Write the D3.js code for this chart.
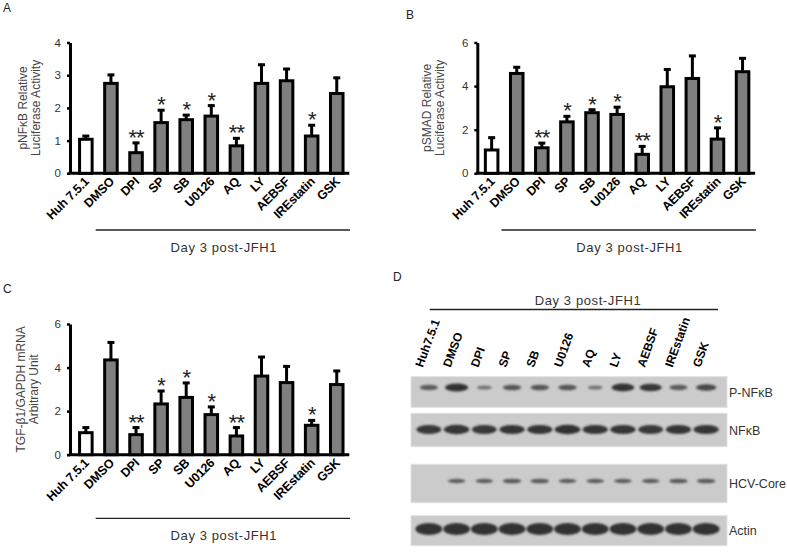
<!DOCTYPE html>
<html><head><meta charset="utf-8">
<script src="https://cdn.jsdelivr.net/npm/d3@7"></script>
<style>body{margin:0;background:#fff}svg{display:block;font-family:Arial,"Liberation Sans",sans-serif}</style>
</head><body>
<script>
// ---------- data ----------
const categories = ["Huh 7.5.1","DMSO","DPI","SP","SB","U0126","AQ","LY","AEBSF","IREstatin","GSK"];
const nfkbMean = [1.04,2.75,0.63,1.55,1.64,1.75,0.84,2.75,2.83,1.14,2.44];
const nfkbErr  = [0.13,0.29,0.33,0.41,0.17,0.35,0.26,0.60,0.39,0.36,0.51];
const nfkbSig  = ["","","**","*","*","*","**","","","*",""];
const smadMean = [1.07,4.58,1.17,2.36,2.78,2.70,0.87,3.97,4.35,1.57,4.66];
const smadErr  = [0.61,0.33,0.26,0.30,0.18,0.38,0.41,0.84,1.08,0.56,0.66];
const smadSig  = ["","","**","*","*","*","**","","","*",""];
const tgfMean  = [1.01,4.35,0.92,2.33,2.63,1.84,0.86,3.61,3.31,1.35,3.22];
const tgfErr   = [0.28,0.85,0.37,0.64,0.71,0.40,0.43,0.92,0.79,0.27,0.67];
const tgfSig   = ["","","**","*","*","*","**","","","*",""];
const nfkbTicks = [0,1,2,3,4];
const sixTicks = [0,2,4,6];
const groupLabel = "Day 3 post-JFH1";

const blotLanes = ["Huh7.5.1","DMSO","DPI","SP","SB","U0126","AQ","LY","AEBSF","IREstatin","GSK"];
const blotRows = ["P-NFκB","NFκB","HCV-Core","Actin"];
const pNfkbBand = [0.50,0.95,0.25,0.55,0.55,0.55,0.25,0.90,0.85,0.50,0.70];
const nfkbBand  = [0.85,0.90,0.85,0.88,0.88,0.92,0.88,0.88,0.85,0.88,0.88];
const coreBand  = [0.00,0.45,0.45,0.50,0.50,0.45,0.45,0.45,0.45,0.50,0.50];
const actinBand = [0.95,0.95,0.95,0.95,0.95,0.95,0.95,0.95,0.95,0.95,0.95];

// ---------- drawing ----------
const W = 787, H = 560;
const svg = d3.select("body").append("svg").attr("width", W).attr("height", H);
const defs = svg.append("defs");
defs.append("filter").attr("id","blur").attr("x","-30%").attr("y","-100%").attr("width","160%").attr("height","300%")
  .append("feGaussianBlur").attr("stdDeviation", 0.9);

function barPanel(cfg) {
  const g = svg.append("g");
  const x = d3.scaleBand().domain(categories).range(cfg.xRange).paddingInner(0.5).paddingOuter(0.25);
  const y = d3.scaleLinear().domain(cfg.yDomain).range(cfg.yRange);
  const y0 = y(0);
  // y axis
  const ax = g.append("g").attr("transform", `translate(${cfg.axisX},0)`)
    .call(d3.axisLeft(y).tickValues(cfg.ticks).tickSize(3).tickSizeOuter(0).tickPadding(6).tickFormat(d3.format("d")));
  ax.select(".domain").attr("stroke-width", 3).attr("stroke","#000");
  ax.selectAll(".tick line").attr("stroke-width", 2.5).attr("stroke","#000");
  ax.selectAll(".tick text").attr("font-size", 11.5).attr("fill","#333").attr("font-family","Arial, sans-serif");
  // x axis line
  g.append("line").attr("x1", cfg.axisX - 1.5).attr("x2", cfg.xRange[1]).attr("y1", y0).attr("y2", y0)
    .attr("stroke","#000").attr("stroke-width",3);
  const data = categories.map((c,i)=>({c, m:cfg.mean[i], e:cfg.err[i], s:cfg.sig[i], i}));
  // error bars
  const eb = g.selectAll(".eb").data(data).enter().append("g");
  eb.append("line").attr("x1", d=>x(d.c)+x.bandwidth()/2).attr("x2", d=>x(d.c)+x.bandwidth()/2)
    .attr("y1", d=>y(d.m)).attr("y2", d=>y(d.m+d.e)).attr("stroke","#000").attr("stroke-width",3);
  eb.append("rect").attr("x", d=>x(d.c)+x.bandwidth()/2-3.5).attr("y", d=>y(d.m+d.e)-0.5)
    .attr("width",7).attr("height",3).attr("fill","#000");
  // bars
  g.selectAll(".bar").data(data).enter().append("rect")
    .attr("x", d=>x(d.c)).attr("width", x.bandwidth())
    .attr("y", d=>y(d.m)).attr("height", d=>y0 - y(d.m))
    .attr("fill", d=>d.i===0 ? "#fff" : "#7f7f7f").attr("stroke","#000").attr("stroke-width",3);
  // significance
  g.selectAll(".sig").data(data.filter(d=>d.s)).enter().append("text")
    .attr("x", d=>x(d.c)+x.bandwidth()/2).attr("y", d=>y(d.m+d.e)+3)
    .attr("text-anchor","middle").attr("font-size",22).attr("letter-spacing","-1").attr("fill","#222").text(d=>d.s);
  // category labels
  g.selectAll(".lab").data(data).enter().append("text")
    .attr("transform", d=>`translate(${x(d.c)+x.bandwidth()/2+4},${y0+9}) rotate(-45)`)
    .attr("text-anchor","end").attr("font-size",12.5).attr("font-weight","bold").attr("fill","#000")
    .attr("letter-spacing","-0.2").text(d=>d.c);
  // group line + label
  g.append("line").attr("x1", x(categories[1])-9).attr("x2", x(categories[10])+x.bandwidth()+7)
    .attr("y1", cfg.groupY).attr("y2", cfg.groupY).attr("stroke","#222").attr("stroke-width",1.3);
  g.append("text").attr("x", (x(categories[1])+x(categories[10])+x.bandwidth())/2).attr("y", cfg.groupY+22)
    .attr("text-anchor","middle").attr("font-size",13).attr("letter-spacing","0.6").attr("fill","#333").text(groupLabel);
  // y title
  const yc = (cfg.yRange[0]+cfg.yRange[1])/2;
  const t = g.append("text").attr("transform", `translate(${cfg.titleX},${yc}) rotate(-90)`)
    .attr("text-anchor","middle").attr("font-size",12).attr("fill","#444");
  t.append("tspan").attr("x",0).attr("dy",0).text(cfg.title[0]);
  t.append("tspan").attr("x",0).attr("dy",cfg.titleGap).text(cfg.title[1]);
  // panel letter
  svg.append("text").attr("x", cfg.letterPos[0]).attr("y", cfg.letterPos[1]).attr("font-size",12).attr("fill","#222").text(cfg.letter);
}

barPanel({letter:"A", letterPos:[3,12], axisX:70, xRange:[73.3,349.3], yDomain:[0,4], yRange:[173.3,42.5], ticks:nfkbTicks,
  mean:nfkbMean, err:nfkbErr, sig:nfkbSig, groupY:230, titleX:27, titleGap:13, title:["pNFκB Relative","Luciferase Activity"]});
barPanel({letter:"B", letterPos:[406,19], axisX:477.3, xRange:[479.1,755.1], yDomain:[0,6], yRange:[173.3,42.5], ticks:sixTicks,
  mean:smadMean, err:smadErr, sig:smadSig, groupY:230, titleX:431, titleGap:13, title:["pSMAD Relative","Luciferase Activity"]});
barPanel({letter:"C", letterPos:[3,293], axisX:70, xRange:[73.3,349.3], yDomain:[0,6], yRange:[454.7,324], ticks:sixTicks,
  mean:tgfMean, err:tgfErr, sig:tgfSig, groupY:518.3, titleX:25, titleGap:12.5, title:["TGF-β1/GAPDH mRNA","Arbitrary Unit"]});

// ---------- western blot panel D ----------
(function(){
  const g = svg.append("g");
  svg.append("text").attr("x",393).attr("y",281).attr("font-size",12).attr("fill","#222").text("D");
  const lx = d3.scaleBand().domain(blotLanes).range([415,720]);
  const cx = d => lx(d)+lx.bandwidth()/2;
  g.append("text").attr("x",588).attr("y",305).attr("text-anchor","middle").attr("font-size",13)
    .attr("letter-spacing","0.6").attr("fill","#333").text(groupLabel);
  g.append("line").attr("x1", lx(blotLanes[1])-13).attr("x2", lx(blotLanes[10])+lx.bandwidth()-2).attr("y1",309.5).attr("y2",309.5)
    .attr("stroke","#222").attr("stroke-width",1.3);
  g.selectAll(".ll").data(blotLanes).enter().append("text")
    .attr("transform", d=>`translate(${cx(d)-6},${368}) rotate(-70)`)
    .attr("font-size",12).attr("font-weight","bold").attr("fill","#000").text(d=>d);
  const strips = [
    {name:blotRows[0], top:376.7, bottom:407.3, bandY:387.5, vals:pNfkbBand, rx:[6,12], ry:[1.2,4.2]},
    {name:blotRows[1], top:413.3, bottom:446.7, bandY:429.5, vals:nfkbBand,  rx:[6,13.5], ry:[1.5,5]},
    {name:blotRows[2], top:464.3, bottom:502.7, bandY:481,   vals:coreBand,  rx:[6,12.5], ry:[1.2,3.4]},
    {name:blotRows[3], top:515.7, bottom:545.7, bandY:529,   vals:actinBand, rx:[6,13.8], ry:[1.5,6.2]}
  ];
  strips.forEach(s=>{
    g.append("rect").attr("x",411).attr("y",s.top).attr("width",316).attr("height",s.bottom-s.top)
      .attr("fill","#cbcbcb").attr("stroke","#e2e2e2").attr("stroke-width",1);
    const rxS = d3.scaleLinear().domain([0,1]).range(s.rx);
    const ryS = d3.scaleLinear().domain([0,1]).range(s.ry);
    const cS = d3.scaleLinear().domain([0,1]).range(["#8a8a8a","#2b2b2b"]);
    g.selectAll(null).data(blotLanes.map((l,i)=>({l,v:s.vals[i]})).filter(d=>d.v>0)).enter().append("ellipse")
      .attr("cx", d=>cx(d.l)).attr("cy", s.bandY).attr("rx", d=>rxS(d.v)).attr("ry", d=>ryS(d.v))
      .attr("fill", d=>cS(d.v)).attr("filter","url(#blur)");
    g.append("text").attr("x",729).attr("y",(s.top+s.bottom)/2+4.5).attr("font-size",12.5).attr("fill","#333").text(s.name);
  });
})();
</script>
</body></html>
